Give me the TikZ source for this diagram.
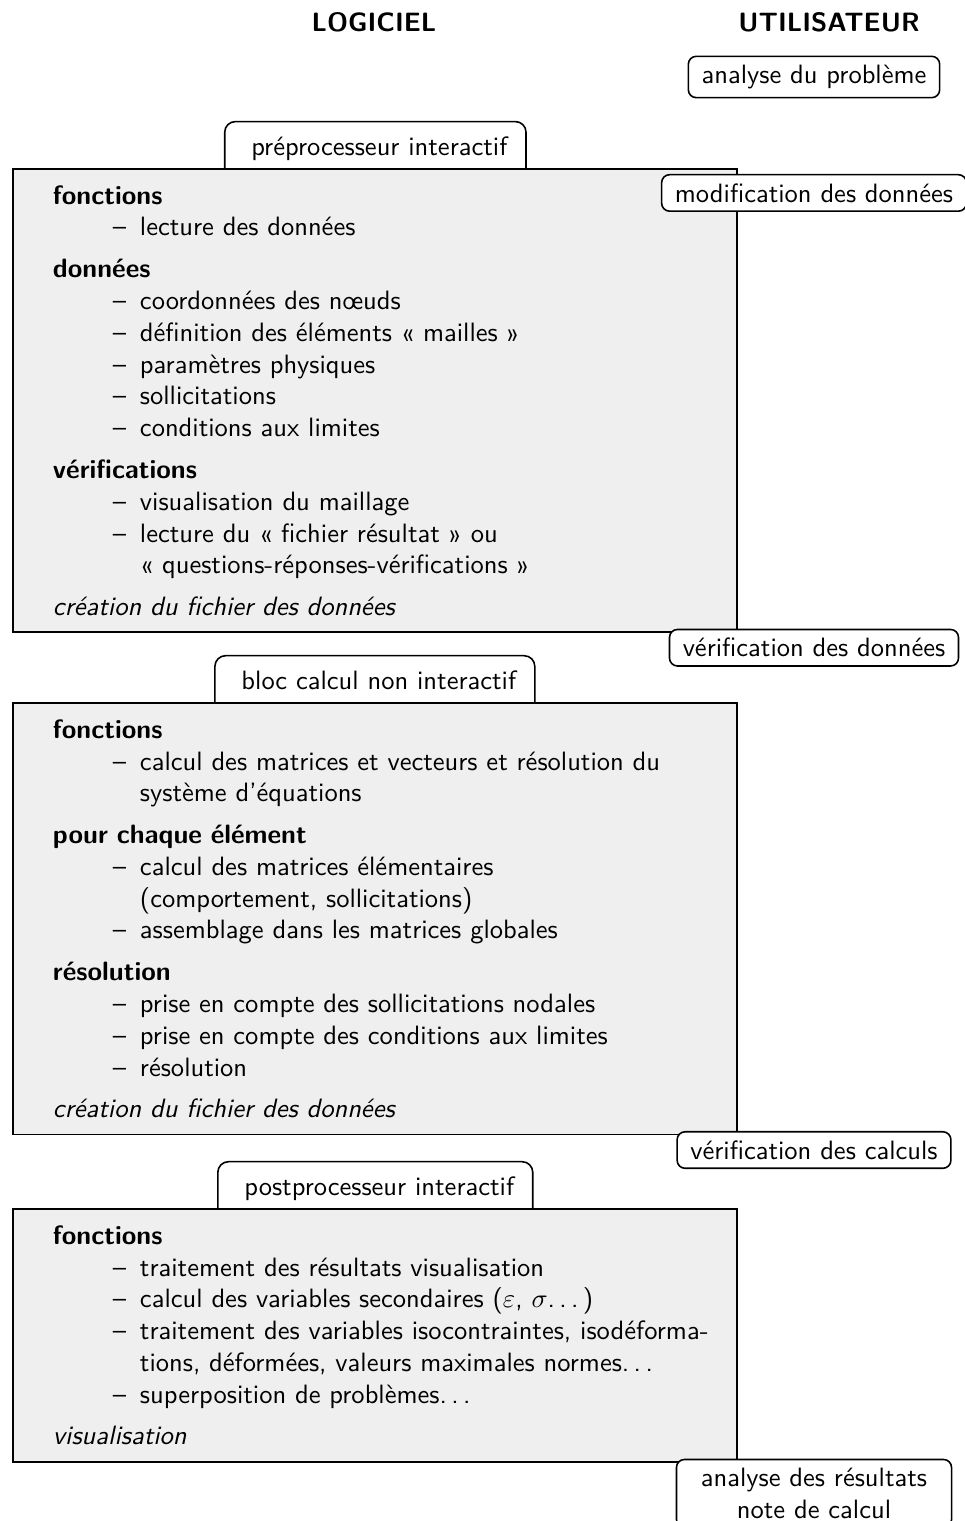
\documentclass[tikz,border=0pt]{standalone}
\usepackage{tikz}
\usetikzlibrary{positioning,calc,backgrounds}
\usepackage{amsmath}
\usepackage{xcolor}
\renewcommand{\familydefault}{\sfdefault}
\definecolor{fondgris}{RGB}{239,239,239}
\newcommand{\rubrique}[1]{\textbf{#1}}
\newcommand{\puce}{\hspace*{22.6pt}\makebox[10.2pt][l]{--}}
\newcommand{\suite}{\hspace*{32.8pt}}
\newcommand{\pts}{.\kern\fontdimen3\font.\kern\fontdimen3\font.\kern\fontdimen3\font}

\begin{document}
\begin{tikzpicture}[x=0.377pt,y=-0.377pt,
	bloc/.style={draw,line width=0.7pt,fill=fondgris,text width=273pt,inner xsep=0pt,inner ysep=6.2pt,
		execute at begin node={\raggedright\leftskip=15.1pt\parindent=0pt}},
	onglet/.style={draw,line width=0.6pt,fill=white,rounded corners=4pt,text height=7pt,text depth=7pt,
		inner xsep=7pt,inner ysep=5.8pt,anchor=base west,execute at begin node={\hspace*{3pt}}},
	etape/.style={draw,line width=0.6pt,fill=white,rounded corners=3pt,inner xsep=5pt,inner ysep=3.3pt,align=center}]
\useasboundingbox (0,0) rectangle (964,1521);

% colonnes
\node[font=\bfseries] (logiciel) at (374,22) {LOGICIEL};
\node[font=\bfseries] (utilisateur) at (829,22) {UTILISATEUR};
\node[etape] (probleme) at (814,77) {analyse du problème};

% les trois blocs du logiciel
\node[bloc,anchor=north west] (preproc) at (12,168) {%
	\rubrique{fonctions}\\
	\puce lecture des données\\[3.7pt]
	\rubrique{données}\\
	\puce coordonnées des nœuds\\
	\puce définition des éléments «~mailles~»\\
	\puce paramètres physiques\\
	\puce sollicitations\\
	\puce conditions aux limites\\[3.7pt]
	\rubrique{vérifications}\\
	\puce visualisation du maillage\\
	\puce lecture du «~fichier résultat~» ou\\
	\suite «~questions-réponses-vérifications~»\\[3.7pt]
	\textit{création du fichier des données}};
\node[bloc,below=26pt of preproc] (solveur) {%
	\rubrique{fonctions}\\
	\puce calcul des matrices et vecteurs et résolution du\\
	\suite système d'équations\\[3.7pt]
	\rubrique{pour chaque élément}\\
	\puce calcul des matrices élémentaires\\
	\suite (comportement, sollicitations)\\
	\puce assemblage dans les matrices globales\\[3.7pt]
	\rubrique{résolution}\\
	\puce prise en compte des sollicitations nodales\\
	\puce prise en compte des conditions aux limites\\
	\puce résolution\\[3.7pt]
	\textit{création du fichier des données}};
\node[bloc,below=27.4pt of solveur] (postproc) {%
	\rubrique{fonctions}\\
	\puce traitement des résultats visualisation\\
	\puce calcul des variables secondaires (\(\varepsilon\), \(\sigma\)\pts)\\
	\puce traitement des variables isocontraintes, isodéforma-\\
	\suite tions, déformées, valeurs maximales normes\pts\\
	\puce superposition de problèmes\pts\\[3.7pt]
	\textit{visualisation}};

% onglets, sous les blocs
\begin{scope}[on background layer]
\node[onglet] (ongletpre) at ($(preproc.north west)+(79.9pt,4.7pt)$) {préprocesseur interactif};
\node[onglet] (ongletsol) at ($(solveur.north west)+(76.2pt,4.7pt)$) {bloc calcul non interactif};
\node[onglet] (ongletpost) at ($(postproc.north west)+(77.3pt,4.7pt)$) {postprocesseur interactif};
\end{scope}

% actions de l'utilisateur
\node[etape] (modif) at ($(preproc.north -| probleme)+(0,-9.4pt)$) {modification des données};
\node[etape] (verifdon) at ($(preproc.south -| probleme)+(0,-5.5pt)$) {vérification des données};
\node[etape] (verifcalc) at ($(solveur.south -| probleme)+(0,-5.5pt)$) {vérification des calculs};
\node[etape,anchor=north,minimum width=103.7pt] (resultats) at ($(postproc.south -| probleme)+(0,1.5pt)$) {analyse des résultats\\note de calcul};
\end{tikzpicture}
\end{document}
